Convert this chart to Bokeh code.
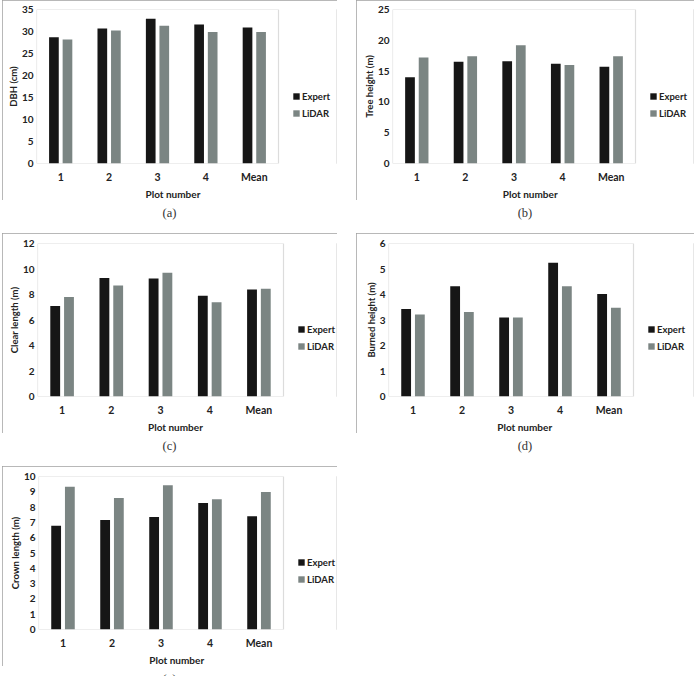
from bokeh.plotting import figure
from bokeh.models import (ColumnDataSource, Range1d, Legend, LegendItem, BoxAnnotation,
                          FixedTicker, Div, Spacer, Title)
from bokeh.layouts import column, row
from bokeh.transform import dodge
from bokeh.embed import file_html
from bokeh.resources import INLINE

cats = ["1", "2", "3", "4", "Mean"]
series_names = ["Expert", "LiDAR"]
x_title = "Plot number"

dbh_expert = [28.7, 30.7, 32.9, 31.6, 30.9]
dbh_lidar = [28.2, 30.2, 31.3, 29.9, 29.9]
th_expert = [14.0, 16.5, 16.6, 16.2, 15.7]
th_lidar = [17.2, 17.4, 19.2, 16.0, 17.4]
cl_expert = [7.1, 9.3, 9.25, 7.9, 8.4]
cl_lidar = [7.8, 8.7, 9.7, 7.4, 8.45]
bh_expert = [3.43, 4.32, 3.1, 5.25, 4.02]
bh_lidar = [3.22, 3.31, 3.1, 4.32, 3.48]
cr_expert = [6.78, 7.15, 7.35, 8.26, 7.41]
cr_lidar = [9.33, 8.6, 9.43, 8.52, 8.98]

EXPERT_COLOR = "#161616"
LIDAR_COLOR = "#7b8583"
FONT = "Lato"
TXT = "#222222"

pos = [i + 0.5 for i in range(len(cats))]
n = len(cats)


def make_panel(ylabel, expert, lidar, ymax, step, left, inner, width, top=9, bottom=37, right=1):
    frame_w = width - left - right
    x_end = n * frame_w / inner
    src = ColumnDataSource(dict(x=pos, expert=expert, lidar=lidar))
    p = figure(x_range=Range1d(0, x_end), y_range=Range1d(0, ymax),
               width=width, height=200, output_backend="svg", toolbar_location=None,
               min_border_left=left, min_border_right=right,
               min_border_top=top, min_border_bottom=bottom)
    r1 = p.vbar(x=dodge("x", -0.14), top="expert", width=0.2,
                source=src, fill_color=EXPERT_COLOR, line_color=None)
    r2 = p.vbar(x=dodge("x", 0.14), top="lidar", width=0.2,
                source=src, fill_color=LIDAR_COLOR, line_color=None)
    p.add_layout(BoxAnnotation(left=0, right=n, bottom=0, top=ymax, fill_alpha=0,
                               line_color="#8a8a8a", line_width=1.2))
    p.xgrid.visible = False
    p.ygrid.visible = False
    p.outline_line_color = None
    p.background_fill_color = "white"
    p.border_fill_color = "white"

    ya = p.yaxis[0]
    ya.ticker = FixedTicker(ticks=list(range(0, ymax + 1, step)))
    ya.axis_label = ylabel
    ya.axis_line_color = None
    ya.major_tick_line_color = None
    ya.minor_tick_line_color = None
    ya.major_tick_out = 0
    ya.major_tick_in = 0
    ya.major_label_standoff = 3
    ya.axis_label_standoff = 0
    ya.major_label_text_font = FONT
    ya.major_label_text_font_style = "bold"
    ya.major_label_text_font_size = "10px"
    ya.major_label_text_color = TXT
    ya.axis_label_text_font = FONT
    ya.axis_label_text_font_style = "bold"
    ya.axis_label_text_font_size = "9.5px"
    ya.axis_label_text_color = TXT

    xa = p.xaxis[0]
    xa.ticker = FixedTicker(ticks=pos)
    xa.major_label_overrides = {v: c for v, c in zip(pos, cats)}
    xa.axis_line_color = None
    xa.major_tick_line_color = None
    xa.minor_tick_line_color = None
    xa.major_tick_out = 0
    xa.major_tick_in = 0
    xa.major_label_standoff = 7
    xa.major_label_text_font = FONT
    xa.major_label_text_font_style = "bold"
    xa.major_label_text_font_size = "10.5px"
    xa.major_label_text_color = TXT

    xt = Title(text=x_title, align="left", offset=(left + inner / 2 + 63) / 2, standoff=0,
               text_font=FONT, text_font_style="bold", text_font_size="10px",
               text_color=TXT)
    p.add_layout(xt, "below")

    legend = Legend(items=[LegendItem(label=series_names[0], renderers=[r1]),
                           LegendItem(label=series_names[1], renderers=[r2])],
                    location=(inner + 14, 44))
    legend.border_line_color = None
    legend.background_fill_alpha = 0
    legend.glyph_width = 8
    legend.glyph_height = 8
    legend.label_text_font = FONT
    legend.label_text_font_style = "bold"
    legend.label_text_font_size = "9.5px"
    legend.label_text_color = TXT
    legend.label_standoff = 2
    legend.label_height = 12
    legend.spacing = 5
    legend.padding = 0
    legend.margin = 0
    p.add_layout(legend, "center")
    p.styles = {"outline": "1px solid #a0a0a0", "outline-offset": "-1px"}
    return p


def caption(text, width):
    return Div(text=f"<div style='width:{width}px;text-align:center;font-family:\"Liberation Serif\";"
                    f"font-size:12.5px;color:#333;padding-top:5px'>{text}</div>",
               width=width, height=33, margin=(0, 0, 0, 0))


pa = make_panel("DBH (cm)", dbh_expert, dbh_lidar, 35, 5, left=34, inner=242, width=335)
pb = make_panel("Tree height (m)", th_expert, th_lidar, 25, 5, left=36, inner=243, width=338)
pc = make_panel("Clear length (m)", cl_expert, cl_lidar, 12, 2, left=35, inner=246, width=335, top=10)
pd = make_panel("Burned height (m)", bh_expert, bh_lidar, 6, 1, left=32, inner=245, width=338, top=10)
pe = make_panel("Crown length (m)", cr_expert, cr_lidar, 10, 1, left=36, inner=245, width=335, top=10)

layout = column(
    row(Spacer(width=2), pa, Spacer(width=19), pb),
    row(Spacer(width=2), caption("(a)", 335), Spacer(width=19), caption("(b)", 338)),
    row(Spacer(width=2), pc, Spacer(width=19), pd),
    row(Spacer(width=2), caption("(c)", 335), Spacer(width=19), caption("(d)", 338)),
    row(Spacer(width=2), pe),
    row(Spacer(width=2), caption("(e)", 335)),
)

open("out.html", "w").write(file_html(layout, INLINE))
